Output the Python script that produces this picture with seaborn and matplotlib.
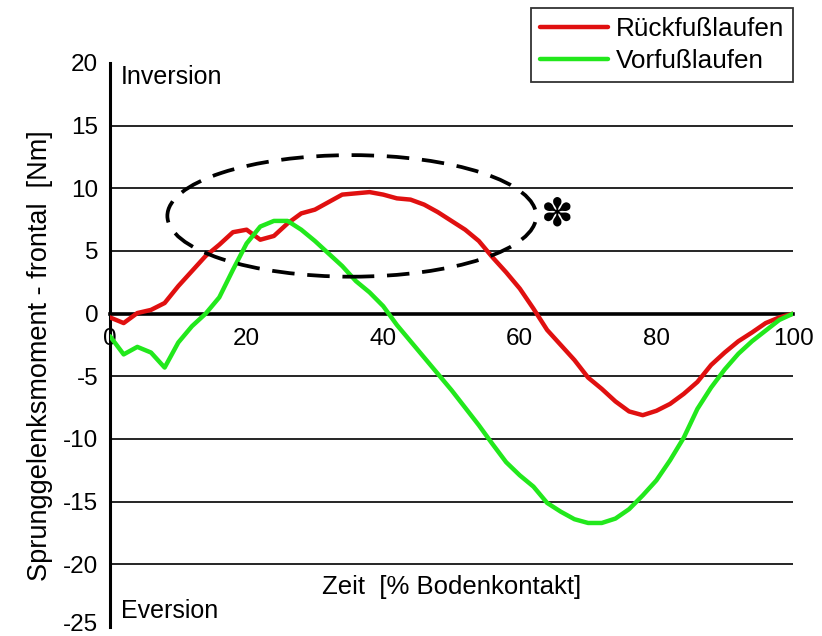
import numpy as np
import pandas as pd
import matplotlib
matplotlib.use("Agg")
import matplotlib.pyplot as plt
import matplotlib.transforms as mtransforms
from matplotlib.patches import Ellipse
import seaborn as sns

# Zeit in % Bodenkontakt
zeit = list(range(0, 101, 2))

# Frontales Sprunggelenksmoment [Nm]
rueckfuss = [-0.3, -0.75, 0.05, 0.3, 0.85, 2.2, 3.4, 4.6, 5.5, 6.5,
             6.7, 5.9, 6.2, 7.2, 8.0, 8.3, 8.9, 9.5, 9.6, 9.7,
             9.5, 9.2, 9.1, 8.7, 8.1, 7.4, 6.7, 5.8, 4.5, 3.3,
             2.0, 0.4, -1.3, -2.5, -3.7, -5.1, -6.0, -7.0, -7.8, -8.1,
             -7.75, -7.2, -6.4, -5.45, -4.1, -3.1, -2.2, -1.5, -0.75, -0.3,
             0.0]
vorfuss = [-1.8, -3.25, -2.65, -3.1, -4.3, -2.3, -1.0, 0.0, 1.3, 3.5,
           5.6, 6.95, 7.4, 7.4, 6.7, 5.8, 4.8, 3.8, 2.6, 1.7,
           0.6, -0.9, -2.2, -3.5, -4.8, -6.1, -7.5, -8.9, -10.4, -11.85,
           -12.9, -13.8, -15.1, -15.8, -16.4, -16.7, -16.7, -16.35, -15.6, -14.5,
           -13.3, -11.7, -9.9, -7.6, -5.9, -4.45, -3.2, -2.2, -1.35, -0.5,
           0.0]

serien = ["Rückfußlaufen", "Vorfußlaufen"]
farben = {"Rückfußlaufen": "#e01010", "Vorfußlaufen": "#22e81c"}

df = pd.DataFrame({
    "Zeit": zeit * 2,
    "Moment": rueckfuss + vorfuss,
    "Lauf": [serien[0]] * len(zeit) + [serien[1]] * len(zeit),
})

sns.set_style("white")
plt.rcParams["font.family"] = ["Liberation Sans", "DejaVu Sans"]
plt.rcParams["axes.unicode_minus"] = False
plt.rcParams["text.color"] = "black"
plt.rcParams["xtick.color"] = "black"
plt.rcParams["ytick.color"] = "black"
plt.rcParams["xtick.labelcolor"] = "black"
plt.rcParams["ytick.labelcolor"] = "black"

fig = plt.figure(figsize=(8.22, 6.36), dpi=100)
W, H = 822, 636
ax = fig.add_axes([110 / W, 1 - 627 / H, 683 / W, 564 / H])

# horizontal reference lines
for yv in [-20, -15, -10, -5, 5, 10, 15]:
    ax.axhline(yv, color="black", lw=1.2, zorder=1)

sns.lineplot(data=df, x="Zeit", y="Moment", hue="Lauf", hue_order=serien,
             palette=farben, lw=3.2, ax=ax, zorder=3)

ax.set_xlim(0, 100)
ax.set_ylim(-25, 20)
ax.set_xticks([0, 20, 40, 60, 80, 100])
ax.set_xticks([10, 30, 50, 70, 90], minor=True)
ax.set_yticks(np.arange(-25, 21, 5))
ax.set_yticks(np.arange(-22.5, 20, 5), minor=True)

for s in ["top", "right"]:
    ax.spines[s].set_visible(False)
ax.spines["bottom"].set_position(("data", 0))
ax.spines["bottom"].set_linewidth(2.6)
ax.spines["left"].set_linewidth(2.2)
ax.spines["bottom"].set_color("black")
ax.spines["left"].set_color("black")
ax.spines["bottom"].set_zorder(2)

ax.tick_params(axis="both", which="major", direction="out", length=7.5, width=2.2,
               labelsize=17.5, color="black", pad=1)
ax.tick_params(axis="both", which="minor", direction="out", length=4.5, width=2.2,
               color="black")
ax.tick_params(axis="x", which="major", pad=3)
ax.set_xlabel("")
ax.set_ylabel("")

# lift the lowest y tick label slightly so it stays inside the figure
lowest = ax.get_yticklabels()[0]
lowest.set_transform(lowest.get_transform()
                     + mtransforms.ScaledTranslation(0, 3 / 72, fig.dpi_scale_trans))

# Markierung des Bereichs um das Maximum
ell = Ellipse((35.4, 7.8), width=54, height=9.7, fill=False, edgecolor="black",
              lw=2.7, linestyle=(0, (6, 3.4)), zorder=4)
ax.add_patch(ell)
ax.text(65.5, 7.9, "\u273D", fontsize=28, ha="center", va="center",
        family="DejaVu Sans", color="black", zorder=5)

ax.text(1.6, 18.9, "Inversion", fontsize=18, ha="left", va="center")
ax.text(1.6, -23.7, "Eversion", fontsize=18, ha="left", va="center")
ax.text(50.0, -21.8, "Zeit  [% Bodenkontakt]", fontsize=18.5, ha="center", va="center")
fig.text(40 / W, 1 - 356 / H, "Sprunggelenksmoment - frontal  [Nm]", fontsize=19.5,
         rotation=90, ha="center", va="center")

handles, labels = ax.get_legend_handles_labels()
ax.get_legend().remove()
leg = fig.legend(handles, labels, loc="upper right",
                 bbox_to_anchor=(793 / W, 1 - 8 / H), borderaxespad=0,
                 fontsize=18.8, frameon=True, fancybox=False, edgecolor="black",
                 handlelength=2.6, handletextpad=0.3, labelspacing=0.3,
                 borderpad=0.35)
leg.get_frame().set_linewidth(1.3)
for ln in leg.get_lines():
    ln.set_linewidth(3.2)

fig.savefig("out.png", dpi=100)
